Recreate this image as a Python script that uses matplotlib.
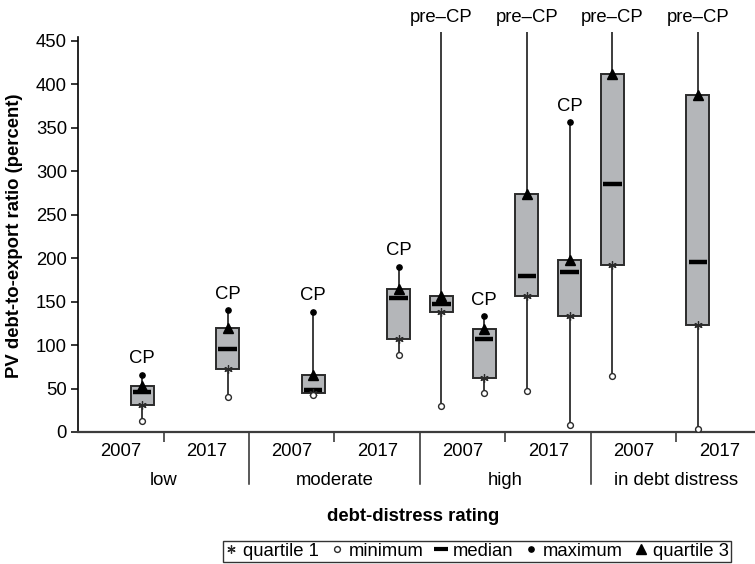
import matplotlib
matplotlib.use('Agg')
import matplotlib.pyplot as plt
from matplotlib.lines import Line2D
from matplotlib.patches import Rectangle

plt.rcParams['font.family'] = ['Liberation Sans', 'DejaVu Sans']

# debt-distress groups, each split into two survey years
groups = ['low', 'moderate', 'high', 'in debt distress']
years = ['2007', '2017']

# CP series, one entry per (group, year) slot; None where no CP box
cp_min = [13, 40, 42, 88, 45, 8, None, None]
cp_q1 = [31, 72, 45, 107, 62, 133, None, None]
cp_median = [46, 96, 48, 154, 107, 184, None, None]
cp_q3 = [53, 120, 66, 165, 119, 198, None, None]
cp_max = [66, 140, 138, 190, 133, 356, None, None]

# pre-CP series; maxima lie above the top of the scale
pre_min = [None, None, None, None, 30, 47, 64, 4]
pre_q1 = [None, None, None, None, 138, 156, 192, 123]
pre_median = [None, None, None, None, 147, 179, 285, 196]
pre_q3 = [None, None, None, None, 156, 274, 412, 387]
pre_max_off_scale = [False, False, False, False, True, True, True, True]

BOX_FILL = '#b4b6b9'
EDGE = '#2b2b2b'
LINE = '#3c3c3c'
FS = 13.3

fig = plt.figure(figsize=(7.55, 5.64), dpi=100)
W, H = 755.0, 564.0
ax = fig.add_axes([78 / W, (H - 432) / H, 684 / W, 400 / H])

ax.set_xlim(0, 8)
ax.set_ylim(0, 460)
Y_TOP = ax.get_ylim()[1]
BOX_W = 0.27


def draw_box(x, lo, q1, med, q3, hi, label, top_clip=False):
    top = Y_TOP if top_clip else hi
    ax.plot([x, x], [lo, top], color=LINE, lw=1.4, zorder=1,
            solid_capstyle='butt')
    ax.add_patch(Rectangle((x - BOX_W / 2, q1), BOX_W, q3 - q1,
                           facecolor=BOX_FILL, edgecolor=EDGE, lw=1.4,
                           zorder=2))
    ax.plot([x - BOX_W * 0.4, x + BOX_W * 0.4], [med, med], color='black',
            lw=3.2, solid_capstyle='butt', zorder=3)
    ax.plot(x, q1, marker=(6, 2, 0), ms=6, mew=0.9, color=EDGE, zorder=4)
    ax.plot(x, q3, marker='^', ms=7, color='black', zorder=4, clip_on=False)
    ax.plot(x, lo, marker='o', ms=4.2, mfc='white', mec=EDGE, mew=1.0,
            zorder=4)
    if top_clip:
        ax.annotate(label, (x, Y_TOP), xytext=(0, 14),
                    textcoords='offset pixels', ha='center', va='center',
                    fontsize=FS, annotation_clip=False)
    else:
        ax.plot(x, hi, marker='o', ms=3.8, color='black', zorder=4)
        ax.annotate(label, (x, hi), xytext=(0, 16),
                    textcoords='offset pixels', ha='center', va='center',
                    fontsize=FS)


for i in range(8):
    centre = i + 0.5
    if cp_q1[i] is not None:
        draw_box(centre + 0.25, cp_min[i], cp_q1[i], cp_median[i], cp_q3[i],
                 cp_max[i], 'CP')
    if pre_q1[i] is not None:
        draw_box(centre - 0.25, pre_min[i], pre_q1[i], pre_median[i],
                 pre_q3[i], None, 'pre\u2013CP', top_clip=pre_max_off_scale[i])

# axes styling
for side in ('top', 'right'):
    ax.spines[side].set_visible(False)
ax.spines['left'].set_bounds(0, 454)
ax.spines['left'].set_color('black')
ax.spines['left'].set_linewidth(1.2)
ax.spines['bottom'].set_color(LINE)
ax.spines['bottom'].set_linewidth(1.6)

ax.set_yticks(range(0, 451, 50))
ax.tick_params(axis='y', length=5, width=1.1, labelsize=FS, pad=3)

ax.set_xticks([i + 0.5 for i in range(8)])
ax.set_xticklabels(years * len(groups))
ax.tick_params(axis='x', length=0, labelsize=FS, pad=8)
ax.set_xticks([1, 3, 5, 7], minor=True)
ax.tick_params(axis='x', which='minor', length=7.5, width=1.1,
               color=EDGE, direction='out')

# long separators between rating groups
xt = ax.get_xaxis_transform()
for b in (2, 4, 6):
    ax.add_line(Line2D([b, b], [0, -0.13], transform=xt, color=EDGE,
                       lw=1.1, clip_on=False))

for g, name in enumerate(groups):
    ax.text(2 * g + 1, -0.122, name, transform=xt, ha='center',
            va='center', fontsize=FS)

ax.set_xlabel('debt-distress rating', fontsize=FS, fontweight='bold')
ax.xaxis.set_label_coords(0.49, -0.19)
ax.set_ylabel('PV debt-to-export ratio (percent)', fontsize=FS,
              fontweight='bold')
ax.yaxis.set_label_coords(-0.08, 0.49)

handles = [
    Line2D([], [], ls='none', marker=(6, 2, 0), ms=6, mew=0.9, color=EDGE),
    Line2D([], [], ls='none', marker='o', ms=4.2, mfc='white', mec=EDGE,
           mew=1.0),
    Line2D([], [], ls='none', marker='_', ms=10, mew=3, color='black'),
    Line2D([], [], ls='none', marker='o', ms=3.8, color='black'),
    Line2D([], [], ls='none', marker='^', ms=7, color='black'),
]
labels = ['quartile 1', 'minimum', 'median', 'maximum', 'quartile 3']
leg = fig.legend(handles, labels, loc='lower center',
                 bbox_to_anchor=(477 / W, 0.0), ncol=5, fontsize=FS,
                 frameon=True, fancybox=False, edgecolor='black',
                 handlelength=0.65, handletextpad=0.3, columnspacing=0.65,
                 borderpad=0.12, borderaxespad=0.1)
leg.get_frame().set_linewidth(1.0)

fig.savefig('out.png', dpi=100)
